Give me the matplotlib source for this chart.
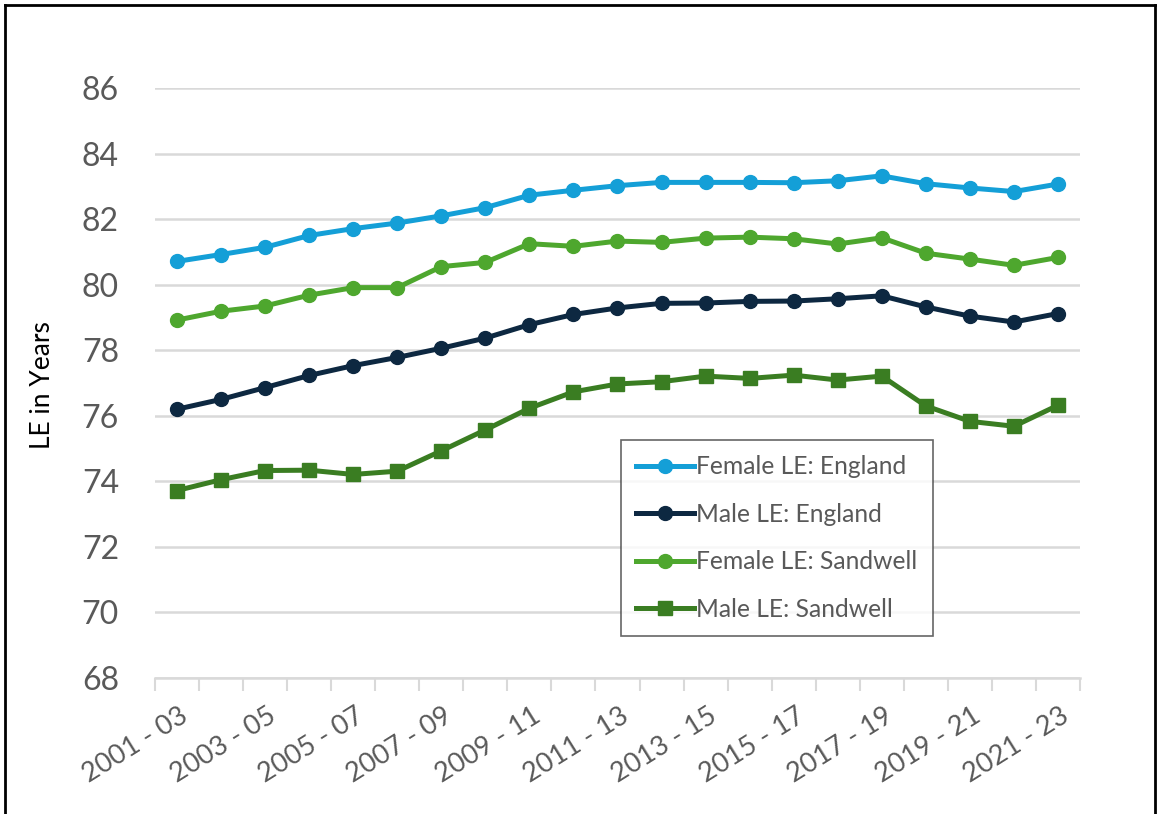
import matplotlib
matplotlib.use("Agg")
import matplotlib.pyplot as plt
from matplotlib.lines import Line2D
from matplotlib.transforms import ScaledTranslation

categories = [f"{y} - {str(y + 2)[-2:]}" for y in range(2001, 2022)]

female_england = [80.71, 80.92, 81.14, 81.50, 81.71, 81.88, 82.10, 82.35, 82.73, 82.88,
                  83.02, 83.12, 83.12, 83.12, 83.11, 83.17, 83.32, 83.08, 82.95, 82.84, 83.07]
male_england = [76.20, 76.50, 76.86, 77.23, 77.53, 77.78, 78.06, 78.37, 78.78, 79.09,
                79.29, 79.43, 79.44, 79.49, 79.50, 79.57, 79.66, 79.32, 79.04, 78.86, 79.12]
female_sandwell = [78.92, 79.19, 79.35, 79.68, 79.91, 79.91, 80.55, 80.68, 81.25, 81.17,
                   81.33, 81.29, 81.42, 81.45, 81.40, 81.24, 81.43, 80.96, 80.78, 80.59, 80.83]
male_sandwell = [73.72, 74.05, 74.33, 74.34, 74.21, 74.31, 74.93, 75.57, 76.23, 76.73,
                 76.97, 77.04, 77.21, 77.14, 77.24, 77.09, 77.21, 76.30, 75.83, 75.68, 76.32]

y_ticks = list(range(68, 87, 2))

plt.rcParams['font.family'] = ['Lato', 'DejaVu Sans']

fig = plt.figure(figsize=(11.59, 8.14), dpi=100)
ax = fig.add_axes([155/1159, 1 - 678/814, (1080-155)/1159, (678-88)/814])

x = list(range(len(categories)))
series = [
    (female_england, "Female LE: England", "#149FD7", "o"),
    (male_england, "Male LE: England", "#0D2841", "o"),
    (female_sandwell, "Female LE: Sandwell", "#4EA72E", "o"),
    (male_sandwell, "Male LE: Sandwell", "#3A7D22", "s"),
]
handles = []
for vals, lab, col, mk in series:
    h, = ax.plot(x, vals, color=col, lw=3.6, marker=mk, markersize=10 if mk == "o" else 9.5,
                 label=lab, zorder=3, solid_joinstyle='round')
    handles.append(h)

ax.set_xlim(-0.5, len(categories) - 0.5)
ax.set_ylim(68, 86)
ax.set_yticks(y_ticks)
ax.set_yticklabels([str(t) for t in y_ticks], fontsize=23, color="#595959")
ax.tick_params(axis='y', length=0, pad=26)
ax.yaxis.grid(True, color="#D9D9D9", lw=1.8)
ax.set_axisbelow(True)
for s in ["top", "right", "left"]:
    ax.spines[s].set_visible(False)
ax.spines["bottom"].set_color("#D9D9D9")
ax.spines["bottom"].set_linewidth(1.8)

ax.set_xticks(x[::2])
ax.set_xticklabels(categories[::2], fontsize=19.5, color="#595959", rotation=32,
                   ha='right', va='top', rotation_mode='anchor')
ax.tick_params(axis='x', which='major', length=0, pad=18)
offset = ScaledTranslation(2/100, 0, fig.dpi_scale_trans)
for lbl in ax.get_xticklabels():
    lbl.set_transform(lbl.get_transform() + offset)
ax.set_xticks([i - 0.5 for i in range(len(categories) + 1)], minor=True)
ax.tick_params(axis='x', which='minor', length=9, width=1.5, color="#D9D9D9", direction='out')

fig.text(42/1159, 1 - 385/814, "LE in Years", fontsize=19, color="black",
         rotation=90, ha='center', va='center')

leg = ax.legend(handles=handles, loc='upper left', bbox_to_anchor=((621-155)/925, (678-440)/590),
                fontsize=17.7, frameon=True, fancybox=False, edgecolor="#404040",
                handlelength=2.35, handletextpad=0.1, labelspacing=1.0, borderpad=0.62,
                borderaxespad=0)
leg.get_frame().set_linewidth(1.2)
for t in leg.get_texts():
    t.set_color("#595959")

# outer frame
fig.add_artist(Line2D([5/1159, 5/1159], [0, 1 - 5/814], color="black", lw=2, transform=fig.transFigure))
fig.add_artist(Line2D([5/1159, 1155/1159], [1 - 5/814, 1 - 5/814], color="black", lw=2, transform=fig.transFigure))
fig.add_artist(Line2D([1155/1159, 1155/1159], [0, 1 - 5/814], color="black", lw=2, transform=fig.transFigure))

fig.savefig("out.png", dpi=100)
